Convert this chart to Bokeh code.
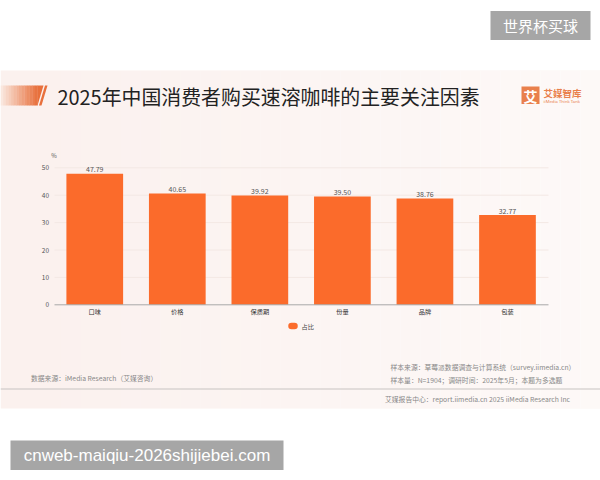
from bokeh.plotting import figure
from bokeh.models import Range1d, ColumnDataSource
from bokeh.core.properties import value
from bokeh.embed import file_html
from bokeh.resources import INLINE

# ---------------- data ----------------
title_text = "2025年中国消费者购买速溶咖啡的主要关注因素"
categories = ["口味", "价格", "保质期", "份量", "品牌", "包装"]
shares = [47.79, 40.65, 39.92, 39.50, 38.76, 32.77]
y_ticks = [0, 10, 20, 30, 40, 50]
y_tick_labels = ["0", "10", "20", "30", "40", "50"]
unit_label = "%"
legend_label = "占比"
source_note = "数据来源：iMedia Research（艾媒咨询）"
sample_notes = ["样本来源：草莓派数据调查与计算系统（survey.iimedia.cn）",
                "样本量：N=1904；调研时间：2025年5月；本题为多选题"]
footer_note = "艾媒报告中心：report.iimedia.cn   2025 iiMedia Research Inc"
logo_name = "艾媒智库"
logo_sub = "iiMedia Think Tank"
logo_mark = "艾"
watermark_top = "世界杯买球"
watermark_bottom = "cnweb-maiqiu-2026shijiebei.com"

CJK = value("Noto Sans CJK SC")
BAR = "#FB6B2B"
ORANGE = "#E9804C"

p = figure(width=600, height=480, output_backend="svg", toolbar_location=None,
           x_range=Range1d(0, 600), y_range=Range1d(480, 0),
           x_axis_location=None, y_axis_location=None, min_border=0, title=None)
p.outline_line_color = None
p.background_fill_color = "white"
p.border_fill_color = "white"
p.grid.grid_line_color = None

# category index axis (0..5) and value axis mapped onto the chart area
p.extra_x_ranges = {"cat": Range1d(-1.142, 6.127)}
p.extra_y_ranges = {"val": Range1d(-64.12, 111.06)}

# ---------------- panel background ----------------
p.quad(left=0, right=600, top=70, bottom=408, fill_color="#FBF1EE", line_color=None)
n = 30
for i in range(n):
    x0 = 600 * i / n
    x1 = 600 * (i + 1) / n
    p.quad(left=x0, right=x1 + 0.5, top=70, bottom=408, fill_color="white",
           fill_alpha=0.55 * i / (n - 1), line_color=None)

# ---------------- title decoration ----------------
c0 = (251, 236, 228)
c1 = (232, 112, 60)
m = 14
for i in range(m):
    x0 = 37 * i / m
    x1 = 37 * (i + 1) / m
    t = (i + 0.5) / m
    col = "#%02x%02x%02x" % tuple(int(c0[k] + (c1[k] - c0[k]) * t) for k in range(3))
    p.quad(left=x0, right=x1 + 0.3, top=85, bottom=105, fill_color=col, line_color=None)
p.patch(x=[37, 43, 37], y=[85, 85, 105], fill_color="#E8703C", line_color=None)
p.patch(x=[44.5, 47, 41, 38.5], y=[85, 85, 105, 105], fill_color="#E8703C", line_color=None)

p.text(x=57, y=96, text=[title_text], text_font=CJK, text_font_size="19.9px",
       text_color="#222222", text_baseline="middle", text_align="left")

# ---------------- logo ----------------
p.quad(left=521, right=539, top=86, bottom=103.5, fill_color=ORANGE, line_color=None)
p.text(x=530, y=95, text=[logo_mark], text_font=CJK, text_font_size="14px",
       text_font_style="bold", text_color="white", text_align="center", text_baseline="middle")
p.text(x=543, y=92, text=[logo_name], text_font=CJK, text_font_size="9.5px",
       text_font_style="bold", text_color=ORANGE, text_align="left", text_baseline="middle")
p.text(x=543, y=100.5, text=[logo_sub], text_font=value("Noto Sans"), text_font_size="4.2px",
       text_color=ORANGE, text_align="left", text_baseline="middle")

# ---------------- chart ----------------
grid_vals = y_ticks[1:]
p.segment(x0=54, x1=548, y0=grid_vals, y1=grid_vals, y_range_name="val",
          line_color="#F3E8E4", line_width=1)

idx = list(range(len(categories)))
src = ColumnDataSource(dict(i=idx, cat=categories, share=shares,
                            lab=["%.2f" % v for v in shares]))
p.vbar(x="i", top="share", bottom=0, width=0.687, source=src,
       x_range_name="cat", y_range_name="val", fill_color=BAR, line_color=None)

p.segment(x0=54, x1=548, y0=0, y1=0, y_range_name="val", line_color="#A9A9A9", line_width=1)

p.text(x="i", y="share", text="lab", source=src, x_range_name="cat", y_range_name="val",
       text_font=CJK, text_font_size="7px", text_color="#555555",
       text_align="center", text_baseline="bottom", y_offset=-1.5)

p.text(x="i", y=0, text="cat", source=src, x_range_name="cat", y_range_name="val",
       text_font=CJK, text_font_size="6.2px", text_color="#333333",
       text_align="center", text_baseline="middle", y_offset=7)

p.text(x=48.5, y=y_ticks, text=y_tick_labels, y_range_name="val",
       text_font=CJK, text_font_size="6.5px", text_color="#555555",
       text_align="right", text_baseline="middle")

p.text(x=53.5, y=[55], text=[unit_label], y_range_name="val",
       text_font=CJK, text_font_size="6px", text_color="#555555",
       text_align="center", text_baseline="middle", y_offset=1)

# legend
p.segment(x0=291, x1=294, y0=325.5, y1=325.5, line_color=BAR, line_width=6.5, line_cap="round")
p.text(x=301, y=325.5, text=[legend_label], text_font=CJK, text_font_size="6.2px",
       text_color="#444444", text_align="left", text_baseline="middle")

# ---------------- notes ----------------
p.text(x=30.5, y=377, text=[source_note], text_font=CJK, text_font_size="6.8px",
       text_color="#888888", text_align="left", text_baseline="middle")
p.text(x=390, y=[366, 379.5], text=sample_notes, text_font=CJK, text_font_size="6.8px",
       text_color="#888888", text_align="left", text_baseline="middle")
p.segment(x0=0, x1=600, y0=388.5, y1=388.5, line_color="#C8C4C2", line_width=1.2)
p.text(x=384.5, y=398, text=[footer_note], text_font=CJK, text_font_size="6.8px",
       text_color="#888888", text_align="left", text_baseline="middle")

# ---------------- watermarks ----------------
p.quad(left=490, right=590, top=10.5, bottom=39.5, fill_color="#A6A6A6", line_color=None)
p.text(x=540, y=25, text=[watermark_top], text_font=CJK, text_font_size="15px",
       text_color="white", text_align="center", text_baseline="middle")
p.quad(left=10, right=283, top=440, bottom=469.5, fill_color="#A6A6A6", line_color=None)
p.text(x=146.5, y=455, text=[watermark_bottom], text_font=value("Liberation Sans"),
       text_font_size="17px", text_color="white", text_align="center", text_baseline="middle")

open("out.html", "w").write(file_html(p, INLINE))
